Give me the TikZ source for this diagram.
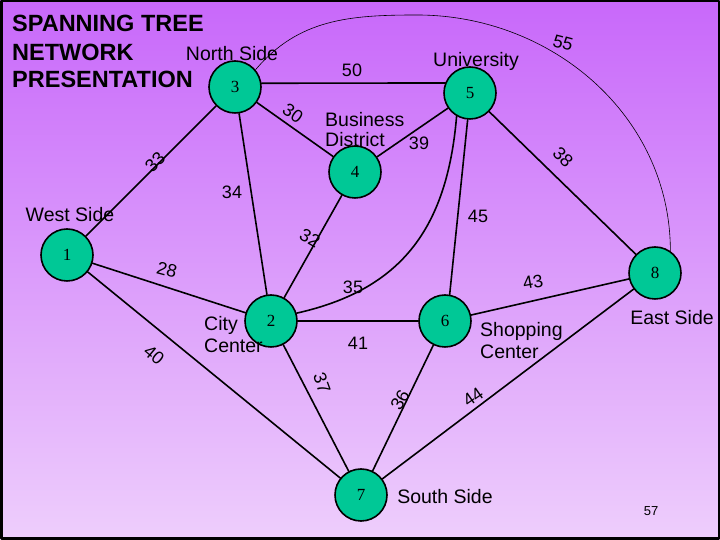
\documentclass[tikz,border=0pt]{standalone}
\usepackage{fontspec}
\setmainfont{Liberation Sans}
\newfontfamily\numfont{Liberation Serif}
\definecolor{bgtop}{RGB}{200,104,250}
\definecolor{bgbot}{RGB}{238,206,252}
\definecolor{towngreen}{RGB}{0,200,150}

\begin{document}
\begin{tikzpicture}[x=1pt, y=1pt, line join=round, line cap=round,
	town/.style={circle, draw, line width=1.6pt, fill=towngreen, minimum size=52pt, inner sep=0pt, font=\numfont\fontsize{17}{17}\selectfont},
	link/.style={line width=1.6pt},
	wt/.style={font=\fontsize{18}{18}\selectfont, inner sep=0pt},
	place/.style={font=\fontsize{19.5}{22}\selectfont, inner sep=0pt, align=left},
	title/.style={font=\bfseries\fontsize{23.5}{28}\selectfont, inner sep=0pt, anchor=base west}]

	\useasboundingbox (0,0) rectangle (720,540);
	\shade[top color=bgtop, bottom color=bgbot] (0,0) rectangle (720,540);
	\draw[line width=2.5pt] (1.25,1.25) rectangle (718.75,538.75);

	% --- title ---
	\node[title] (t1) at (12,508) {SPANNING TREE};
	\node[title] (t2) at (12,479) {NETWORK};
	\node[title] (t3) at (12,452) {PRESENTATION};

	% --- towns ---
	\node[town] (n1) at (67,285) {1};
	\node[town] (n2) at (271,219) {2};
	\node[town] (n3) at (235,453) {3};
	\node[town] (n4) at (355,368) {4};
	\node[town] (n5) at (470,447) {5};
	\node[town] (n6) at (445,219) {6};
	\node[town] (n7) at (361,45) {7};
	\node[town] (n8) at (655,267) {8};

	% --- links ---
	\foreach \a/\b in {n1/n3, n1/n2, n1/n7, n3/n4, n3/n2, n4/n5, n4/n2, n5/n8, n2/n6, n2/n7, n6/n7, n6/n8, n7/n8} {
		\draw[link] (\a) -- (\b);
	}
	\draw[link] (n3.8) -- (n5.158);
	\draw[link] (n5.265) -- (n6.80);
	\draw[link] (n5.240) .. controls (447,310) and (400,250) .. (n2.17);

	\coordinate (arctop) at (417,525);
	\draw[line width=0.6pt] (n3.40) to[out=50, in=180] (arctop) to[out=0, in=90] (n8.55);

	% --- weights ---
	\foreach \x/\y/\r/\t in {352/470/0/50, 293/427/-35/30, 155/378/45/33, 232/348/0/34,
		419/397/0/39, 563/383/-45/38, 478/324/0/45, 563/497/-15/55, 310/302/-30/32,
		353/253/0/35, 358/197/0/41, 167/270/-15/28, 154/185/-40/40, 322/157/-70/37,
		400/140/60/36, 533/258/10/43, 473/143/35/44} {
		\node[wt, rotate=\r] (w\t) at (\x,\y) {\t};
	}

	% --- place names ---
	\node[place] (north) at (232,486) {North Side};
	\node[place] (univ) at (476,479) {University};
	\node[place, anchor=west, font=\fontsize{19.5}{20}\selectfont] (business) at (325,410) {Business\\District};
	\node[place] (west) at (70,325) {West Side};
	\node[place, anchor=west] (city) at (204,205) {City\\Center};
	\node[place, anchor=west] (shop) at (480,199) {Shopping\\Center};
	\node[place] (east) at (672,222) {East Side};
	\node[place] (south) at (445,43) {South Side};
	\node[font=\fontsize{13}{13}\selectfont, inner sep=0pt] (page) at (651,29) {57};

\end{tikzpicture}
\end{document}
